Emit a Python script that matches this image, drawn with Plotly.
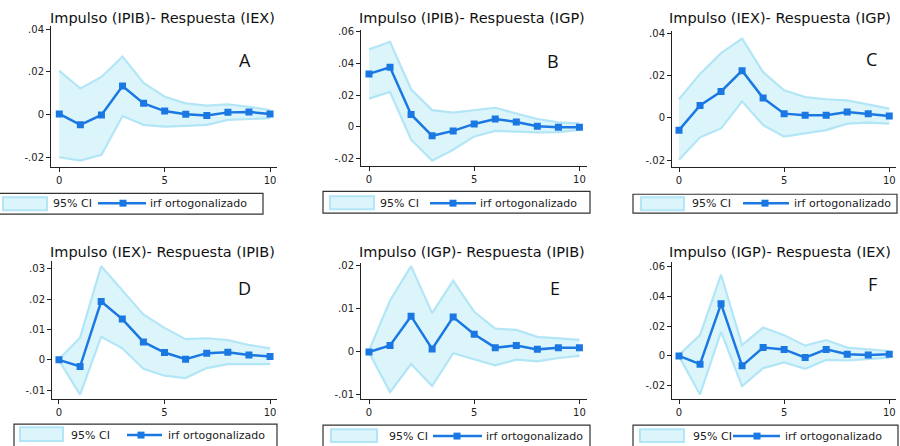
import plotly.graph_objects as go

# ---------------- data ----------------
steps = list(range(11))

titles = ["Impulso (IPIB)- Respuesta (IEX)", "Impulso (IPIB)- Respuesta (IGP)",
          "Impulso (IEX)- Respuesta (IGP)", "Impulso (IEX)- Respuesta (IPIB)",
          "Impulso (IGP)- Respuesta (IPIB)", "Impulso (IGP)- Respuesta (IEX)"]
letters = ["A", "B", "C", "D", "E", "F"]
legend_ci = "95% CI"
legend_irf = "irf ortogonalizado"

irf_A = [0.0005, -0.0046, 0.0000, 0.0135, 0.0054, 0.0018, 0.0003, -0.0003, 0.0012, 0.0014, 0.0005]
hi_A = [0.0205, 0.0123, 0.0177, 0.0272, 0.0149, 0.0085, 0.0054, 0.0043, 0.0049, 0.0038, 0.0023]
lo_A = [-0.0197, -0.0212, -0.0185, -0.0005, -0.0046, -0.0054, -0.0051, -0.0046, -0.0023, -0.0018, -0.0015]

irf_B = [0.0335, 0.0377, 0.0079, -0.0056, -0.0025, 0.0019, 0.0050, 0.0031, 0.0004, -0.0002, -0.0002]
hi_B = [0.0490, 0.0538, 0.0238, 0.0106, 0.0090, 0.0106, 0.0121, 0.0085, 0.0050, 0.0029, 0.0023]
lo_B = [0.0179, 0.0221, -0.0081, -0.0213, -0.0144, -0.0060, -0.0025, -0.0029, -0.0035, -0.0033, -0.0019]

irf_C = [-0.0058, 0.0059, 0.0125, 0.0223, 0.0094, 0.0020, 0.0013, 0.0013, 0.0028, 0.0020, 0.0009]
hi_C = [0.0088, 0.0208, 0.0306, 0.0375, 0.0216, 0.0130, 0.0098, 0.0088, 0.0083, 0.0063, 0.0044]
lo_C = [-0.0198, -0.0092, -0.0050, 0.0078, -0.0034, -0.0089, -0.0073, -0.0058, -0.0027, -0.0022, -0.0027]

irf_D = [0.0000, -0.0022, 0.0192, 0.0134, 0.0059, 0.0024, 0.0002, 0.0022, 0.0025, 0.0016, 0.0011]
hi_D = [0.0002, 0.0073, 0.0308, 0.0228, 0.0149, 0.0105, 0.0068, 0.0071, 0.0065, 0.0049, 0.0038]
lo_D = [-0.0002, -0.0114, 0.0076, 0.0038, -0.0029, -0.0052, -0.0060, -0.0027, -0.0014, -0.0014, -0.0014]

irf_E = [-0.0001, 0.0014, 0.0082, 0.0006, 0.0080, 0.0040, 0.0009, 0.0014, 0.0005, 0.0009, 0.0009]
hi_E = [0.0002, 0.0118, 0.0198, 0.0089, 0.0164, 0.0092, 0.0053, 0.0050, 0.0034, 0.0031, 0.0027]
lo_E = [-0.0002, -0.0094, -0.0029, -0.0080, -0.0004, -0.0018, -0.0032, -0.0019, -0.0023, -0.0015, -0.0010]

irf_F = [0.0000, -0.0056, 0.0351, -0.0067, 0.0056, 0.0044, -0.0011, 0.0044, 0.0011, 0.0007, 0.0011]
hi_F = [0.0007, 0.0140, 0.0547, 0.0073, 0.0191, 0.0140, 0.0069, 0.0107, 0.0056, 0.0044, 0.0033]
lo_F = [-0.0004, -0.0260, 0.0162, -0.0204, -0.0082, -0.0044, -0.0087, -0.0027, -0.0031, -0.0022, -0.0011]

x_ticks = [0, 5, 10]
y_ticks_A = [-0.02, 0, 0.02, 0.04]
y_ticks_B = [-0.02, 0, 0.02, 0.04, 0.06]
y_ticks_C = [-0.02, 0, 0.02, 0.04]
y_ticks_D = [-0.01, 0, 0.01, 0.02, 0.03]
y_ticks_E = [-0.01, 0, 0.01, 0.02]
y_ticks_F = [-0.02, 0, 0.02, 0.04, 0.06]

irfs = [irf_A, irf_B, irf_C, irf_D, irf_E, irf_F]
his = [hi_A, hi_B, hi_C, hi_D, hi_E, hi_F]
los = [lo_A, lo_B, lo_C, lo_D, lo_E, lo_F]
y_ticks = [y_ticks_A, y_ticks_B, y_ticks_C, y_ticks_D, y_ticks_E, y_ticks_F]

# ---------------- layout (pixels) ----------------
W, H = 900, 446


def px(x):
    return x / W


def py(y):
    return 1 - y / H


# axis boxes: left, right, top, bottom (px) and ranges
boxes = [
    dict(l=51, r=277, t=23, b=165, xr=[-0.394, 10.33], yr=[-0.0240, 0.0415]),
    dict(l=361, r=587, t=27, b=164, xr=[-0.38, 10.36], yr=[-0.0244, 0.0614]),
    dict(l=672, r=896, t=28, b=165, xr=[-0.333, 10.32], yr=[-0.0230, 0.0412]),
    dict(l=52, r=277, t=260, b=400, xr=[-0.33, 10.33], yr=[-0.0130, 0.0326]),
    dict(l=361, r=587, t=262, b=400, xr=[-0.38, 10.36], yr=[-0.0111, 0.0206]),
    dict(l=672, r=896, t=261, b=400, xr=[-0.333, 10.32], yr=[-0.0293, 0.0635]),
]
title_pos = [(162, 15), (472, 15), (780, 15), (162, 251), (472, 251), (780, 251)]
letter_pos = [(245, 58), (553, 59), (871, 57), (245, 288), (555, 288), (872, 284)]
# legend: box(l,r,t,b), swatch(l,r,t,b), ci text x, line (x0,x1), marker x, irf text x, center y
legends = [
    dict(box=(-1, 263, 192, 213), sw=(3, 47, 196, 209), ct=51, ln=(98, 146), mk=123, it=148, cy=202),
    dict(box=(323, 590, 190, 212), sw=(330, 374, 195, 208), ct=378, ln=(430, 476), mk=453, it=478, cy=202),
    dict(box=(633, 897, 193, 212), sw=(641, 684, 196, 209), ct=690, ln=(743, 789), mk=765, it=792, cy=202),
    dict(box=(14, 277, 425, 450), sw=(20, 63, 428, 442), ct=69, ln=(127, 162), mk=141, it=166, cy=436),
    dict(box=(323, 590, 426, 450), sw=(331, 377, 430, 443), ct=387, ln=(433, 482), mk=457, it=484, cy=437),
    dict(box=(633, 898, 426, 450), sw=(640, 684, 430, 443), ct=691, ln=(733, 780), mk=757, it=783, cy=437),
]

BLUE = "#1b78e3"
CI_FILL = "#dbf5fb"
CI_LINE = "#b2e6f6"
AXIS = "#222222"
FONT = "DejaVu Sans"


def stata_fmt(v):
    if v == 0:
        return "0"
    s = ("%g" % v)
    s = s.replace("0.", ".")
    return s


fig = go.Figure()
layout = dict(
    width=W, height=H, margin=dict(l=0, r=0, t=0, b=0),
    paper_bgcolor="white", plot_bgcolor="white", showlegend=False,
    font=dict(family=FONT, color="#222222"),
)
annotations = []
shapes = []

for i in range(6):
    n = "" if i == 0 else str(i + 1)
    xa, ya = "x" + n, "y" + n
    bx = boxes[i]
    fig.add_trace(go.Scatter(x=steps, y=los[i], xaxis=xa, yaxis=ya, mode="lines",
                             line=dict(color=CI_LINE, width=2.2), hoverinfo="skip", name=legend_ci))
    fig.add_trace(go.Scatter(x=steps, y=his[i], xaxis=xa, yaxis=ya, mode="lines", fill="tonexty",
                             fillcolor=CI_FILL, line=dict(color=CI_LINE, width=2.2), name=legend_ci))
    fig.add_trace(go.Scatter(x=steps, y=irfs[i], xaxis=xa, yaxis=ya, mode="lines+markers",
                             line=dict(color=BLUE, width=2.5),
                             marker=dict(symbol="square", size=7, color=BLUE), name=legend_irf))
    layout["xaxis" + n] = dict(
        domain=[px(bx["l"]), px(bx["r"])], range=bx["xr"], anchor=ya,
        showline=True, linecolor=AXIS, linewidth=1, ticks="outside", ticklen=4, tickcolor=AXIS,
        tickvals=x_ticks, ticktext=[str(v) for v in x_ticks], showgrid=False, zeroline=False,
        tickfont=dict(size=10, family=FONT, color="#222222"), fixedrange=True)
    layout["yaxis" + n] = dict(
        domain=[py(bx["b"]), py(bx["t"])], range=bx["yr"], anchor=xa,
        showline=True, linecolor=AXIS, linewidth=1, ticks="outside", ticklen=4, tickcolor=AXIS,
        tickvals=y_ticks[i], ticktext=[stata_fmt(v) for v in y_ticks[i]], showgrid=False,
        zeroline=False, tickfont=dict(size=10, family=FONT, color="#222222"), fixedrange=True)

    tx, ty = title_pos[i]
    annotations.append(dict(text=titles[i], x=px(tx), y=py(ty), xref="paper", yref="paper",
                            xanchor="center", yanchor="middle", showarrow=False,
                            font=dict(size=14.5, family=FONT, color="#111111")))
    lx, ly = letter_pos[i]
    annotations.append(dict(text=letters[i], x=px(lx), y=py(ly), xref="paper", yref="paper",
                            xanchor="center", yanchor="middle", showarrow=False,
                            font=dict(size=18, family="Open Sans", color="#111111")))

    lg = legends[i]
    l, r, t, b = lg["box"]
    shapes.append(dict(type="rect", xref="paper", yref="paper", x0=px(l), x1=px(r), y0=py(b), y1=py(t),
                       line=dict(color="#333333", width=1.2), fillcolor="white", layer="above"))
    l, r, t, b = lg["sw"]
    shapes.append(dict(type="rect", xref="paper", yref="paper", x0=px(l), x1=px(r), y0=py(b), y1=py(t),
                       line=dict(color=CI_LINE, width=2), fillcolor=CI_FILL, layer="above"))
    cy = lg["cy"]
    annotations.append(dict(text=legend_ci, x=px(lg["ct"]), y=py(cy), xref="paper", yref="paper",
                            xanchor="left", yanchor="middle", showarrow=False,
                            font=dict(size=11, family=FONT, color="#222222")))
    x0, x1 = lg["ln"]
    shapes.append(dict(type="line", xref="paper", yref="paper", x0=px(x0), x1=px(x1), y0=py(cy), y1=py(cy),
                       line=dict(color=BLUE, width=2.5), layer="above"))
    m = lg["mk"]
    shapes.append(dict(type="rect", xref="paper", yref="paper", x0=px(m - 3.5), x1=px(m + 3.5),
                       y0=py(cy + 3.5), y1=py(cy - 3.5), line=dict(width=0), fillcolor=BLUE, layer="above"))
    annotations.append(dict(text=legend_irf, x=px(lg["it"]), y=py(cy), xref="paper", yref="paper",
                            xanchor="left", yanchor="middle", showarrow=False,
                            font=dict(size=11, family=FONT, color="#222222")))

layout["annotations"] = annotations
layout["shapes"] = shapes
fig.update_layout(**layout)
fig.write_html("out.html", config={"displayModeBar": False},
               post_script="document.body.style.margin='0';document.body.style.overflow='hidden';")
